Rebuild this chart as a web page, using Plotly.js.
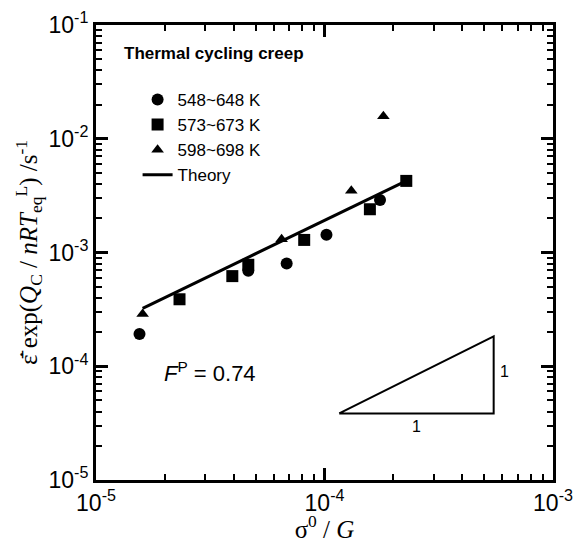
<!DOCTYPE html>
<html>
<head>
<meta charset="utf-8">
<script src="https://cdn.plot.ly/plotly-3.0.1.min.js"></script>
<style>html,body{margin:0;padding:0;background:#fff;}#chart{width:582px;height:543px;}</style>
</head>
<body>
<div id="chart"></div>
<script>
// Series: 548~648 K (circles)
var circleX = [1.55e-5, 4.64e-5, 6.83e-5, 1.02e-4, 1.75e-4];
var circleY = [1.92e-4, 6.9e-4, 8.0e-4, 1.43e-3, 2.9e-3];
// Series: 573~673 K (squares)
var squareX = [2.32e-5, 3.95e-5, 4.64e-5, 8.15e-5, 1.58e-4, 2.28e-4];
var squareY = [3.88e-4, 6.2e-4, 7.8e-4, 1.29e-3, 2.4e-3, 4.26e-3];
// Series: 598~698 K (triangles)
var triX = [1.60e-5, 6.49e-5, 1.31e-4, 1.81e-4];
var triY = [2.88e-4, 1.31e-3, 3.49e-3, 1.58e-2];
// Theory line
var theoryX = [1.60e-5, 2.28e-4];
var theoryY = [3.23e-4, 4.26e-3];
// Slope triangle (slope 1)
var slopeX = [1.16e-4, 5.5e-4, 5.5e-4, 1.16e-4];
var slopeY = [3.85e-5, 3.85e-5, 1.83e-4, 3.85e-5];

var names = ['548~648 K', '573~673 K', '598~698 K', 'Theory'];
var xTickVals = [1e-5, 1e-4, 1e-3];
var xTickText = ['10<sup>-5</sup>', '10<sup>-4</sup>', '10<sup>-3</sup>'];
var yTickVals = [1e-5, 1e-4, 1e-3, 1e-2, 1e-1];
var yTickText = ['10<sup>-5</sup>', '10<sup>-4</sup>', '10<sup>-3</sup>', '10<sup>-2</sup>', '10<sup>-1</sup>'];
var minorDigits = [2, 3, 4, 5, 6, 7, 8, 9];

function minorVals(lo, hi) {
  var out = [];
  for (var e = lo; e < hi; e++) {
    for (var i = 0; i < minorDigits.length; i++) out.push(minorDigits[i] * Math.pow(10, e));
  }
  return out;
}

var traces = [
  {x: circleX, y: circleY, mode: 'markers', type: 'scatter', name: names[0],
   marker: {symbol: 'circle', size: 12, color: '#000'}},
  {x: squareX, y: squareY, mode: 'markers', type: 'scatter', name: names[1],
   marker: {symbol: 'square', size: 12, color: '#000'}},
  {x: triX, y: triY, mode: 'markers', type: 'scatter', name: names[2],
   marker: {symbol: 'triangle-up', size: 11, color: '#000'}},
  {x: theoryX, y: theoryY, mode: 'lines', type: 'scatter', name: names[3],
   line: {color: '#000', width: 3}},
  {x: slopeX, y: slopeY, mode: 'lines', type: 'scatter', showlegend: false,
   line: {color: '#000', width: 2}, hoverinfo: 'skip'}
];

var tickFont = {family: 'Liberation Sans', size: 23, color: '#000'};
var titleFont = {family: 'Liberation Serif', size: 25, color: '#000'};

var layout = {
  width: 582, height: 543,
  margin: {l: 96, r: 29, t: 25, b: 63},
  paper_bgcolor: '#fff', plot_bgcolor: '#fff',
  showlegend: true,
  xaxis: {
    type: 'log', range: [-5, -3],
    showgrid: false, zeroline: false,
    showline: true, linecolor: '#000', linewidth: 3,
    mirror: 'allticks',
    ticks: 'inside', ticklen: 12, tickwidth: 2.5, tickcolor: '#000',
    tickmode: 'array', tickvals: xTickVals, ticktext: xTickText,
    tickfont: tickFont,
    minor: {ticks: 'inside', ticklen: 6, tickwidth: 2, tickcolor: '#000', showgrid: false,
            tickvals: minorVals(-5, -3)},
    title: {text: 'σ<sup>0</sup> / <i>G</i>', standoff: 2, font: titleFont}
  },
  yaxis: {
    type: 'log', range: [-5, -1],
    showgrid: false, zeroline: false,
    showline: true, linecolor: '#000', linewidth: 3,
    mirror: 'allticks',
    ticks: 'inside', ticklen: 12, tickwidth: 2.5, tickcolor: '#000',
    tickmode: 'array', tickvals: yTickVals, ticktext: yTickText,
    tickfont: tickFont,
    minor: {ticks: 'inside', ticklen: 6, tickwidth: 2, tickcolor: '#000', showgrid: false,
            tickvals: minorVals(-5, -1)},
    title: {text: 'ε\u0307\u0304 exp(<i>Q</i><sub>C</sub> / <i>nRT</i><sub>eq</sub><sup>L</sup>) /s<sup>-1</sup>', standoff: 4, font: titleFont}
  },
  legend: {
    x: 0.091, y: 0.875, xanchor: 'left', yanchor: 'top',
    bgcolor: 'rgba(0,0,0,0)',
    font: {family: 'Liberation Sans', size: 17, color: '#000'},
    tracegroupgap: 0
  },
  annotations: [
    {xref: 'paper', yref: 'paper', x: 0.056, y: 0.938, xanchor: 'left', yanchor: 'middle',
     text: '<b>Thermal cycling creep</b>', showarrow: false,
     font: {family: 'Liberation Sans', size: 17, color: '#000'}},
    {xref: 'x', yref: 'y', x: -4.502, y: -4.05, text: '<i>F</i><sup>P</sup> = 0.74', showarrow: false,
     font: {family: 'Liberation Sans', size: 22, color: '#000'}},
    {xref: 'x', yref: 'y', x: -3.596, y: -4.53, text: '1', showarrow: false,
     font: {family: 'Liberation Sans', size: 16, color: '#000'}},
    {xref: 'x', yref: 'y', x: -3.213, y: -4.05, text: '1', showarrow: false,
     font: {family: 'Liberation Sans', size: 16, color: '#000'}}
  ]
};

Plotly.newPlot('chart', traces, layout, {displayModeBar: false});
</script>
</body>
</html>
